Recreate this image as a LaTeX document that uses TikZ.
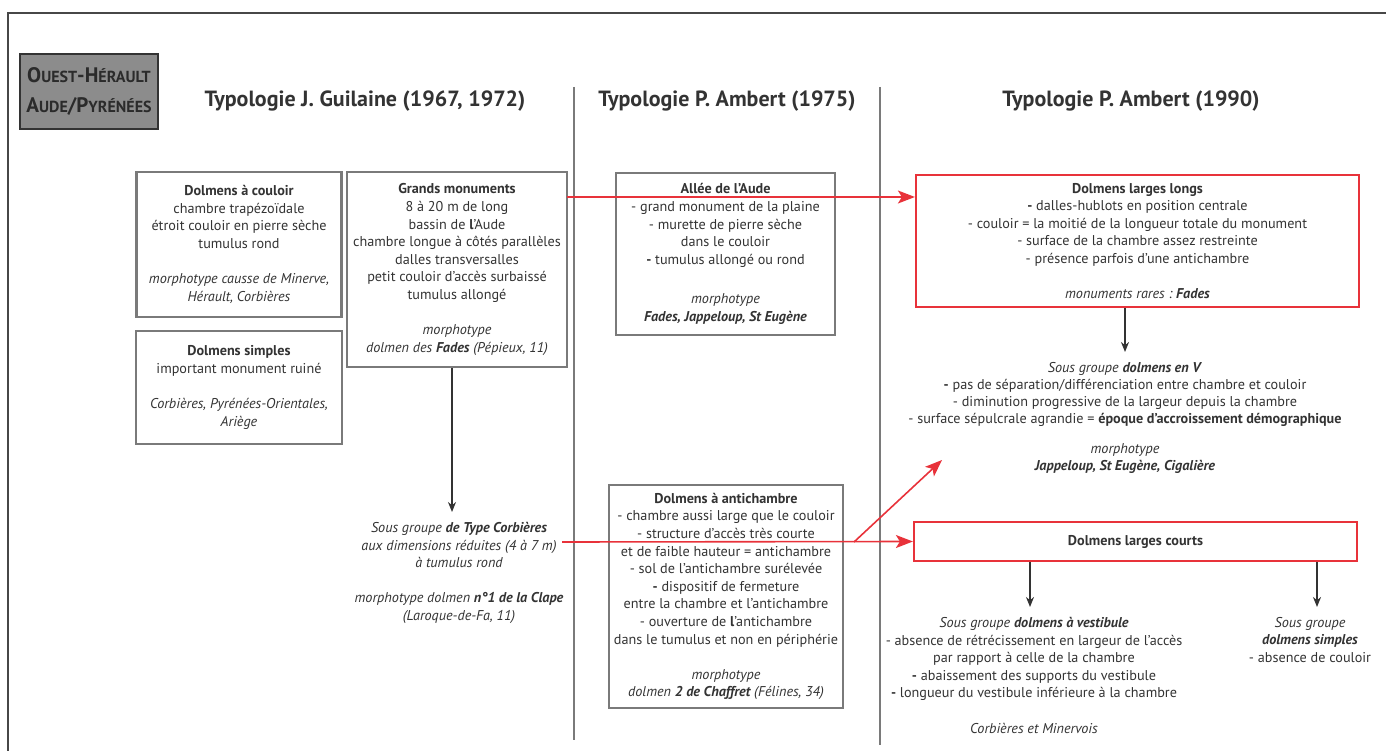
\documentclass[tikz,border=0pt]{standalone}
\usepackage{fontspec}
\setmainfont{PT Sans}
\usetikzlibrary{arrows.meta}
\definecolor{ink}{HTML}{333333}
\definecolor{boxgray}{HTML}{7A7A7A}
\definecolor{redline}{HTML}{E8323A}
\definecolor{headfill}{HTML}{8C8C8C}
\newcommand{\bigsc}[1]{{\fontsize{21}{30}\selectfont #1}}

\begin{document}
\begin{tikzpicture}[x=1pt,y=-1pt,
  txt/.style={align=center,text=ink,inner sep=0pt,font=\fontsize{14.2}{17.6}\selectfont},
  bbox/.style={txt,draw=boxgray,line width=2.2pt},
  rbox/.style={txt,draw=redline,line width=2.2pt},
  title/.style={text=ink,inner sep=0pt,font=\fontsize{22}{24}\selectfont\bfseries},
  blk/.style={draw=ink,line width=1.6pt,-{Stealth[length=10pt,width=8pt]}},
  redarr/.style={draw=redline,line width=1.6pt,-{Stealth[length=17pt,width=13pt,inset=4pt]}},
  sep/.style={draw=boxgray,line width=2pt}]
  \useasboundingbox (0,0) rectangle (1386,751);
  \draw[ink!90,line width=2.4pt] (8,751) -- (8,13) -- (1386,13);
  \draw[sep] (574,87) -- (574,740);
  \draw[sep] (880,87) -- (880,745);

  \node[draw=ink,fill=headfill,line width=1.6pt,minimum width=138pt,minimum height=75pt,
    align=center,text=ink!85!black,font=\fontsize{16}{30}\selectfont\bfseries,inner sep=0pt] (region) at (89,91.5)
    {\bigsc{O}UEST\bigsc{-H}ÉRAULT\\\bigsc{A}UDE\bigsc{/P}YRÉNÉES};
  \node[title] (guilaine) at (365,101) {Typologie J. Guilaine (1967, 1972)};
  \node[title] (ambert75) at (727,101) {Typologie P. Ambert (1975)};
  \node[title] (ambert90) at (1131,101) {Typologie P. Ambert (1990)};

  \node[bbox,minimum width=205pt,minimum height=145pt] (couloir) at (239,244.5)
    {\textbf{Dolmens à couloir}\\chambre trapézoïdale\\étroit couloir en pierre sèche\\tumulus rond\\[17.6pt]
     \textit{morphotype causse de Minerve,}\\\textit{Hérault, Corbières}};
  \node[bbox,minimum width=206pt,minimum height=113pt] (simples) at (239,387.5)
    {\textbf{Dolmens simples}\\important monument ruiné\\[17.6pt]
     \textit{Corbières, Pyrénées-Orientales,}\\\textit{Ariège}};
  \node[bbox,minimum width=220pt,minimum height=195pt] (grands) at (457,269.5)
    {\textbf{Grands monuments}\\8 à 20 m de long\\bassin de \textbf{l}’Aude\\chambre longue à côtés parallèles\\
     dalles transversalles\\petit couloir d’accès surbaissé\\tumulus allongé\\[17.6pt]
     \textit{morphotype}\\\textit{dolmen des \textbf{Fades} (Pépieux, 11)}};
  \node[txt,anchor=north,font=\fontsize{14.2}{17.6}\selectfont\itshape] (corbieres) at (459,522)
    {Sous groupe \textbf{de Type Corbières}\\aux dimensions réduites (4 à 7 m)\\à tumulus rond\\[17.6pt]
     morphotype dolmen \textbf{n°1 de la Clape}\\(Laroque-de-Fa, 11)};

  \node[bbox,minimum width=219pt,minimum height=162pt] (allee) at (725.5,254)
    {\textbf{Allée de l’Aude}\\- grand monument de la plaine\\- murette de pierre sèche\\dans le couloir\\
     \textbf{-} tumulus allongé ou rond\\[22pt]\textit{morphotype}\\\textit{\textbf{Fades, Jappeloup, St Eugène}}};
  \node[bbox,minimum width=234pt,minimum height=223pt] (anti) at (726,596.5)
    {\textbf{Dolmens à antichambre}\\- chambre aussi large que le couloir\\- structure d’accès très courte\\
     et de faible hauteur = antichambre\\- sol de l’antichambre surélevée\\\textbf{-} dispositif de fermeture\\
     entre la chambre et l’antichambre\\- ouverture de \textbf{l}’antichambre\\dans le tumulus et non en périphérie\\[17.6pt]
     \textit{morphotype}\\\textit{dolmen \textbf{2 de Chaffret} (Félines, 34)}};

  \node[rbox,minimum width=443pt,minimum height=132pt] (longs) at (1137.5,241)
    {\textbf{Dolmens larges longs}\\\textbf{-} dalles-hublots en position centrale\\
     - couloir = la moitié de la longueur totale du monument\\- surface de la chambre assez restreinte\\
     - présence parfois d’une antichambre\\[17.6pt]\textit{monuments rares~:~\textbf{Fades}}};
  \node[txt,anchor=north,font=\fontsize{14.2}{17.2}\selectfont] (vgroup) at (1125,362)
    {\textit{Sous groupe \textbf{dolmens en V}}\\\textbf{-} pas de séparation/différenciation entre chambre et couloir\\
     - diminution progressive de la largeur depuis la chambre\\
     - surface sépulcrale agrandie = \textbf{époque d’accroissement démographique}\\[12pt]
     \textit{morphotype}\\\textit{\textbf{Jappeloup, St Eugène, Cigalière}}};
  \node[rbox,minimum width=443pt,minimum height=39pt] (courts) at (1135.5,541.5)
    {\textbf{Dolmens larges courts}};
  \node[txt,anchor=north] (vestibule) at (1034,617)
    {\textit{Sous groupe \textbf{dolmens à vestibule}}\\- absence de rétrécissement en largeur de l’accès\\
     par rapport à celle de la chambre\\\textbf{-} abaissement des supports du vestibule\\
     \textbf{-} longueur du vestibule inférieure à la chambre\\[17.6pt]\textit{Corbières et Minervois}};
  \node[txt,anchor=north] (simplesgr) at (1310,617)
    {\textit{Sous groupe}\\\textit{\textbf{dolmens simples}}\\- absence de couloir};

  \coordinate (fromgrands) at (567,197);
  \coordinate (fromcorb) at (562,542);
  \coordinate (fork) at (854,542);
  \coordinate (toV) at (942,460);
  \draw[redarr] (fromgrands) -- (fromgrands -| longs.west);
  \draw[redarr] (fromcorb) -- (courts.west);
  \draw[redarr] (fork) -- (toV);
  \draw[blk,shorten >=10pt] (grands.south -| 452,0) -- (corbieres.north -| 452,0);
  \draw[blk,shorten >=10pt] (longs.south -| 1125,0) -- (vgroup.north);
  \draw[blk,shorten >=10pt] (courts.south -| 1030,0) -- (vestibule.north -| 1030,0);
  \draw[blk,shorten >=10pt] (courts.south -| 1317,0) -- (simplesgr.north -| 1317,0);
\end{tikzpicture}
\end{document}
